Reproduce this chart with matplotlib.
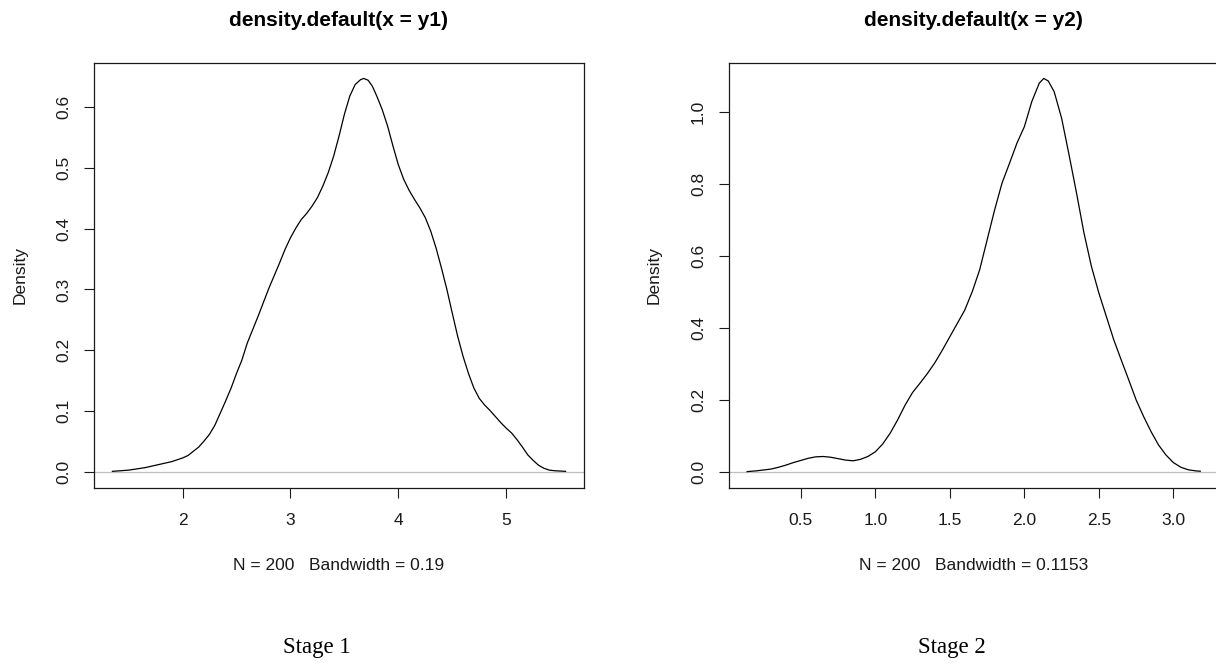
import numpy as np
import matplotlib
matplotlib.use("Agg")
import matplotlib.pyplot as plt

# kernel density curves for the two stages (x, density)
y1_x = [1.35, 1.50, 1.65, 1.80, 1.90, 2.00, 2.05, 2.10, 2.15, 2.20, 2.25, 2.30, 2.35,
        2.40, 2.45, 2.50, 2.55, 2.60, 2.70, 2.80, 2.90, 2.95, 3.00, 3.05, 3.10, 3.15,
        3.20, 3.25, 3.30, 3.35, 3.40, 3.45, 3.50, 3.55, 3.60, 3.65, 3.68, 3.72, 3.76,
        3.80, 3.85, 3.90, 3.95, 4.00, 4.05, 4.10, 4.15, 4.20, 4.25, 4.30, 4.35, 4.40,
        4.45, 4.50, 4.55, 4.60, 4.65, 4.70, 4.75, 4.80, 4.85, 4.90, 4.95, 5.00, 5.05,
        5.10, 5.15, 5.20, 5.25, 5.30, 5.35, 5.40, 5.45, 5.55]
y1_d = [0.001, 0.003, 0.007, 0.013, 0.017, 0.023, 0.027, 0.034, 0.041, 0.051, 0.062,
        0.077, 0.097, 0.117, 0.138, 0.162, 0.184, 0.212, 0.256, 0.302, 0.344, 0.366,
        0.385, 0.401, 0.415, 0.425, 0.437, 0.451, 0.470, 0.492, 0.519, 0.552, 0.588,
        0.618, 0.637, 0.645, 0.647, 0.644, 0.634, 0.618, 0.596, 0.569, 0.536, 0.505,
        0.481, 0.463, 0.448, 0.434, 0.418, 0.396, 0.368, 0.335, 0.300, 0.261, 0.223,
        0.190, 0.162, 0.138, 0.121, 0.110, 0.101, 0.091, 0.081, 0.072, 0.064, 0.053,
        0.041, 0.028, 0.019, 0.011, 0.006, 0.003, 0.002, 0.001]

y2_x = [0.14, 0.20, 0.30, 0.35, 0.40, 0.45, 0.50, 0.55, 0.60, 0.65, 0.70, 0.75, 0.80,
        0.85, 0.90, 0.95, 1.00, 1.05, 1.10, 1.15, 1.20, 1.25, 1.30, 1.35, 1.40, 1.45,
        1.50, 1.55, 1.60, 1.65, 1.70, 1.75, 1.80, 1.85, 1.90, 1.95, 2.00, 2.05, 2.10,
        2.13, 2.16, 2.20, 2.25, 2.30, 2.35, 2.40, 2.45, 2.50, 2.55, 2.60, 2.65, 2.70,
        2.75, 2.80, 2.85, 2.90, 2.95, 3.00, 3.05, 3.10, 3.15, 3.18]
y2_d = [0.001, 0.003, 0.008, 0.013, 0.019, 0.026, 0.032, 0.038, 0.042, 0.043, 0.041,
        0.037, 0.033, 0.031, 0.035, 0.043, 0.056, 0.078, 0.108, 0.145, 0.186, 0.221,
        0.247, 0.274, 0.304, 0.339, 0.376, 0.413, 0.450, 0.501, 0.562, 0.645, 0.728,
        0.803, 0.858, 0.914, 0.960, 1.030, 1.081, 1.094, 1.087, 1.057, 0.983, 0.881,
        0.775, 0.664, 0.571, 0.497, 0.432, 0.367, 0.311, 0.256, 0.200, 0.154, 0.112,
        0.075, 0.047, 0.026, 0.013, 0.006, 0.003, 0.002]

titles = ["density.default(x = y1)", "density.default(x = y2)"]
subs = ["N = 200   Bandwidth = 0.19", "N = 200   Bandwidth = 0.1153"]
captions = ["Stage 1", "Stage 2"]
xticks = [[2, 3, 4, 5], [0.5, 1.0, 1.5, 2.0, 2.5, 3.0]]
yticks = [[0.0, 0.1, 0.2, 0.3, 0.4, 0.5, 0.6], [0.0, 0.2, 0.4, 0.6, 0.8, 1.0]]
xfmt = ["%d", "%.1f"]

SANS = "Liberation Sans"
SERIF = "Liberation Serif"
INK = "#1a1a1a"

W, H = 1216, 664
fig = plt.figure(figsize=(W / 100, H / 100), dpi=100)

# panel boxes in pixels: left, top, width, height
boxes = [(94.3, 62.7, 489.4, 425.0), (729.0, 62.7, 489.4, 425.0)]
curves = [(y1_x, y1_d), (y2_x, y2_d)]


def r_range(lo, hi):
    # R pads the data range by 4% on each side
    pad = 0.04 * (hi - lo)
    return lo - pad, hi + pad


for i, (bx, by, bw, bh) in enumerate(boxes):
    ax = fig.add_axes([bx / W, 1 - (by + bh) / H, bw / W, bh / H])
    xs, ds = np.asarray(curves[i][0]), np.asarray(curves[i][1])

    ax.axhline(0, color="#bdbdbd", lw=0.9, zorder=1)
    ax.plot(xs, ds, color="black", lw=0.9, zorder=2, solid_joinstyle="round")

    ax.set_xlim(*r_range(xs.min(), xs.max()))
    ax.set_ylim(*r_range(0, ds.max()))

    ax.set_xticks(xticks[i])
    ax.set_xticklabels([xfmt[i] % v for v in xticks[i]])
    ax.set_yticks(yticks[i])
    ax.set_yticklabels(["%.1f" % v for v in yticks[i]])

    ax.tick_params(axis="both", direction="out", length=7.5, width=0.8,
                   color=INK, labelcolor=INK, labelsize=12.5)
    ax.tick_params(axis="x", pad=11)
    ax.tick_params(axis="y", pad=9, labelrotation=90)
    for lab in ax.get_xticklabels() + ax.get_yticklabels():
        lab.set_family(SANS)
    for lab in ax.get_yticklabels():
        lab.set_va("center")

    for sp in ax.spines.values():
        sp.set_color(INK)
        sp.set_linewidth(0.9)

    ax.set_ylabel("Density", family=SANS, fontsize=12.5, color=INK)
    ax.yaxis.set_label_coords(-67 / bw, 0.5)

    cx = (bx + bw / 2) / W
    ax.text(0.5, 1 + 42 / bh, titles[i], transform=ax.transAxes, ha="center",
            va="center", family=SANS, fontsize=15, fontweight="bold", color="black")
    fig.text(cx, 1 - 565 / H, subs[i], ha="center", va="center", family=SANS,
             fontsize=12.5, color=INK)

fig.text(317 / W, 1 - 647 / H, captions[0], ha="center", va="center",
         family=SERIF, fontsize=16.5, color="black")
fig.text(952 / W, 1 - 647 / H, captions[1], ha="center", va="center",
         family=SERIF, fontsize=16.5, color="black")

fig.savefig("out.png", dpi=100, facecolor="white")
